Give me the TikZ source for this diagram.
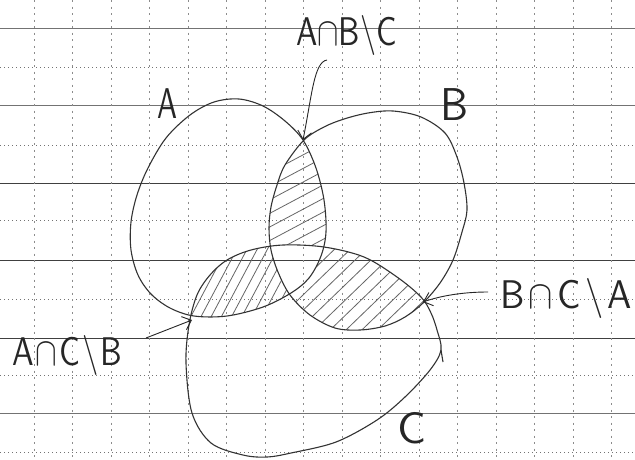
\documentclass[tikz,border=0pt]{standalone}
\usetikzlibrary{arrows.meta}
\begin{document}
\begin{tikzpicture}[x=1pt,y=-1pt,
  shapeline/.style={draw=black!80, line width=1.1pt},
  hatchline/.style={draw=black!60, line width=0.8pt},
  gridsolid/.style={draw=black!75, line width=0.9pt},
  gridpale/.style={draw=black!55, line width=0.9pt},
  griddot/.style={draw=black!55, line width=0.7pt, dash pattern=on 1.2pt off 2.8pt},
  gridvert/.style={draw=black!45, line width=0.7pt, dash pattern=on 2pt off 4.5pt},
  pointer/.style={draw=black!85, line width=0.9pt, -{Straight Barb[length=8pt,width=14pt]}},
  lbl/.style={inner sep=0pt, text=black!85, font=\sffamily}]

\useasboundingbox (0,0) rectangle (635,459);
\fill[white] (0,0) rectangle (635,459);

% grid paper
\foreach \y in {183,260,338} \draw[gridsolid] (0,\y) -- (635,\y);
\foreach \y in {28,105,413} \draw[gridpale] (0,\y) -- (635,\y);
\foreach \y in {67,145,220,299,375,452} \draw[griddot] (0,\y) -- (635,\y);
\foreach \k in {0,...,15} \draw[gridvert] ({34+38.5*\k},0) -- ({34+38.5*\k},459);

\def\pathA{plot[smooth cycle, tension=0.55] coordinates {(239,99) (263,106) (285,121) (303,140) (316,168) (324,200) (326,232) (321,256) (309,278) (291,293) (263,307) (227,316) (194,316) (170,308) (151,294) (138,275) (131,250) (131,222) (137,195) (148,168) (166,138) (190,115) (214,102)}}
\def\pathB{plot[smooth cycle, tension=0.55] coordinates {(368,113) (393,111) (421,117) (445,133) (457,157) (464,183) (467,210) (462,232) (453,260) (440,283) (423,303) (405,317) (385,326) (360,330) (335,328) (310,315) (290,295) (278,272) (271,250) (269,228) (271,207) (277,185) (285,165) (304,140) (324,127) (344,119)}}
\def\pathC{plot[smooth cycle, tension=0.55] coordinates {(283,245) (324,247) (364,257) (397,277) (421,297) (431,313) (437,330) (441,350) (430,370) (405,397) (377,420) (336,442) (291,453) (267,457) (243,455) (211,443) (192,413) (186,363) (189,325) (197,295) (210,275) (227,260) (251,250)}}

% hatching A cap B minus C
\begin{scope}[even odd rule]
  \clip \pathA;
  \clip \pathB;
  \clip (0,0) rectangle (635,459) \pathC;
  \foreach \s in {-70,-58,...,70}
    \draw[hatchline] ({300+\s*sin(28)-90*cos(28)},{195+\s*cos(28)+90*sin(28)}) -- ++({180*cos(28)},{-180*sin(28)});
\end{scope}
% hatching A cap C minus B
\begin{scope}[even odd rule]
  \clip \pathA;
  \clip \pathC;
  \clip (0,0) rectangle (635,459) \pathB;
  \foreach \s in {-60,-51,...,60}
    \draw[hatchline] ({245+\s*sin(62)-80*cos(62)},{285+\s*cos(62)+80*sin(62)}) -- ++({160*cos(62)},{-160*sin(62)});
\end{scope}
% hatching B cap C minus A
\begin{scope}[even odd rule]
  \clip \pathB;
  \clip \pathC;
  \clip (0,0) rectangle (635,459) \pathA;
  \foreach \s in {-80,-69,...,80}
    \draw[hatchline] ({360+\s*sin(44)-90*cos(44)},{290+\s*cos(44)+90*sin(44)}) -- ++({180*cos(44)},{-180*sin(44)});
\end{scope}

% the three sets
\draw[shapeline] \pathA;
\draw[shapeline] \pathB;
\draw[shapeline] \pathC;
\draw[shapeline] (441,350) -- (443,362);

% labels
\node[lbl, anchor=base west] (labA) at (157,118) {\scalebox{3.0}[4.3]{A}};
\node[lbl, anchor=base west] (labB) at (440,120) {\scalebox{4.2}[4.6]{B}};
\node[lbl, anchor=base west] (labC) at (397,443) {\scalebox{4.5}[4.4]{C}};
\node[lbl, anchor=base west] (labABC) at (296,45) {\scalebox{3.2}[4.0]{A${\cap}$B\textbackslash C}};
\node[lbl, anchor=base west] (labBCA) at (500,308) {\scalebox{3.65}[4.0]{B\hspace{1.2pt}${\cap}$\hspace{1.2pt}C\hspace{1.2pt}\textbackslash\hspace{1.2pt}A}};
\node[lbl, anchor=base west] (labACB) at (12,365) {\scalebox{3.25}[4.0]{A\hspace{0.6pt}${\cap}$\hspace{0.6pt}C\hspace{0.6pt}\textbackslash\hspace{0.6pt}B}};

% pointers
\coordinate (p1s) at (327,60);
\coordinate (p1e) at (303,140);
\coordinate (p2s) at (488,292);
\coordinate (p2e) at (423,302);
\coordinate (p3s) at (146,338);
\coordinate (p3e) at (192,320);
\draw[pointer] (p1s) .. controls (314,62) and (312,95) .. (p1e);
\draw[pointer] (p2s) .. controls (462,292) and (440,296) .. (p2e);
\draw[pointer] (p3s) -- (p3e);
\end{tikzpicture}
\end{document}
